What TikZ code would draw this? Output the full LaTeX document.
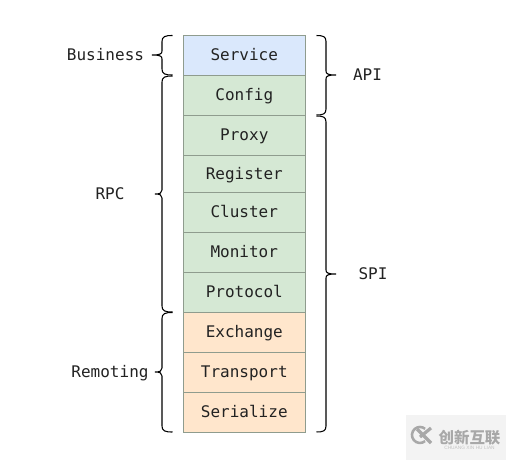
\documentclass[tikz,border=0pt]{standalone}
\usepackage{fontspec}
\setmainfont{DejaVu Sans Mono}
\newfontfamily\cjk{Noto Sans CJK SC}
\newfontfamily\wmlatin{Liberation Sans}
\definecolor{bluef}{HTML}{DAE8FC}
\definecolor{greenf}{HTML}{D5E8D4}
\definecolor{orangef}{HTML}{FFE6CC}
\definecolor{edgeg}{HTML}{8F9C8E}
\definecolor{inkc}{HTML}{222222}
\definecolor{wmbg}{HTML}{F3F3F3}
\definecolor{wmink}{HTML}{A8A8A8}
\newcommand{\bracel}[4]{% top, tipy, bottom, tipx
  \draw[bracestyle] (172.5,#1) .. controls (165,#1) and (162,#1+1) .. (162,#1+6)
    -- (162,#2-4) .. controls (162,#2-1) and (160,#2) .. (#4,#2)
    .. controls (160,#2) and (162,#2+1) .. (162,#2+4)
    -- (162,#3-6) .. controls (162,#3-1) and (165,#3) .. (172.5,#3);}
\newcommand{\bracer}[4]{% top, tipy, bottom, tipx
  \draw[bracestyle] (316.5,#1) .. controls (323,#1) and (326,#1+1) .. (326,#1+6)
    -- (326,#2-4) .. controls (326,#2-1) and (328,#2) .. (#4,#2)
    .. controls (328,#2) and (326,#2+1) .. (326,#2+4)
    -- (326,#3-6) .. controls (326,#3-1) and (323,#3) .. (316.5,#3);}
\tikzset{
  x=0.75pt, y=-0.75pt,
  layerbox/.style={draw=edgeg, line width=0.75pt, minimum width=91.5pt, inner sep=0pt, anchor=north west, text=inkc, text height=10pt, text depth=2.1pt, font=\fontsize{12pt}{14pt}\selectfont},
  bracestyle/.style={draw=black, line width=0.8pt},
  sidelabel/.style={text=inkc, inner sep=0pt, text height=10pt, text depth=2.1pt, font=\fontsize{12pt}{14pt}\selectfont},
}
\begin{document}
\begin{tikzpicture}
\useasboundingbox (0,0) rectangle (506,460);
\fill[white] (0,0) rectangle (506,460);
\node[layerbox, fill=bluef, minimum height=30pt] (service) at (182.8,35) {Service};
\node[layerbox, fill=greenf, minimum height=30pt] (config) at (182.8,75) {Config};
\node[layerbox, fill=greenf, minimum height=30pt] (proxy) at (182.8,115) {Proxy};
\node[layerbox, fill=greenf, minimum height=27.75pt] (register) at (182.8,155) {Register};
\node[layerbox, fill=greenf, minimum height=30pt] (cluster) at (182.8,192) {Cluster};
\node[layerbox, fill=greenf, minimum height=30pt] (monitor) at (182.8,232) {Monitor};
\node[layerbox, fill=greenf, minimum height=30pt] (protocol) at (182.8,272) {Protocol};
\node[layerbox, fill=orangef, minimum height=30pt] (exchange) at (182.8,312) {Exchange};
\node[layerbox, fill=orangef, minimum height=30pt] (transport) at (182.8,352) {Transport};
\node[layerbox, fill=orangef, minimum height=30pt] (serialize) at (182.8,392) {Serialize};
\bracel{35.5}{55}{75}{152}
\bracel{76}{194}{312}{155}
\bracel{312.5}{372}{432}{155}
\bracer{35.5}{75}{115}{336}
\bracer{116}{274}{432}{336}
\node[sidelabel] (business) at (105.5,55) {Business};
\node[sidelabel] (rpc) at (110,194) {RPC};
\node[sidelabel] (remoting) at (110,372) {Remoting};
\node[sidelabel] (api) at (367.5,75) {API};
\node[sidelabel] (spi) at (373,274) {SPI};
\fill[wmbg] (406,415) rectangle (506,460);
\draw[wmink, line width=1.9pt] (425.1,441.1) arc (50:310:8);
\draw[wmink, line width=2.4pt] (417,429) -- (431,443) (431,428) -- (420,437);
\node[text=wmink, inner sep=0pt, font=\cjk\bfseries\fontsize{11.6pt}{12pt}\selectfont] (wm) at (469.5,438) {创新互联};
\node[text=wmink!70, inner sep=0pt, font=\wmlatin\fontsize{3.6pt}{4pt}\selectfont] (wmsub) at (469.5,447.5) {CHUANG XIN HU LIAN};
\end{tikzpicture}
\end{document}
